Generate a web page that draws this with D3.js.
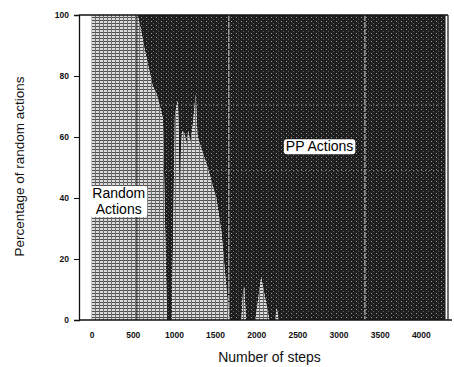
<!DOCTYPE html>
<html><head><meta charset="utf-8">
<script src="https://cdn.jsdelivr.net/npm/d3@7/dist/d3.min.js"></script>
<style>body{margin:0;background:#fff}svg{display:block}</style>
</head><body>
<svg id="chart" width="454" height="367"></svg>
<script>
// ---- data ----
const steps = [0, 560, 600, 650, 700, 740, 790, 840, 867, 890, 915, 975, 995, 1012, 1030, 1048, 1060, 1072, 1085, 1100, 1133, 1150, 1175, 1200, 1230, 1265, 1285, 1300, 1410, 1518, 1578, 1650, 1675, 1820, 1840, 1855, 1875, 1990, 2060, 2110, 2160, 2230, 2250, 2270, 4300];
const randomPct = [100, 100, 95, 88, 82, 77, 74, 69, 66, 35, 0, 0, 35, 67, 70, 72, 60, 23, 55, 62, 61, 57, 62, 58, 64, 74, 61, 59, 50, 39.5, 28.6, 6.6, 0, 0, 9, 11, 0, 0, 14, 7, 0, 0, 4, 0, 0];
const xTicks = [0, 500, 1000, 1500, 2000, 2500, 3000, 3500, 4000];
const yTicks = [0, 20, 40, 60, 80, 100];
const areaLabels = [
  {lines: ["Random", "Actions"], step: 330, pct: 39},
  {lines: ["PP Actions"], step: 2770, pct: 57}
];
const xTitle = "Number of steps";
const yTitle = "Percentage of random actions";

// ---- layout ----
const L = 79, R = 448, T = 15, B = 320;
const svg = d3.select("#chart");
const x = d3.scaleLinear().domain([-153, 4330]).range([L, R]);
const y = d3.scaleLinear().domain([0, 100]).range([B, T]);
const data = steps.map((s, i) => ({s, v: randomPct[i]}));

const defs = svg.append("defs");
// light hatched texture
const pl = defs.append("pattern").attr("id", "light").attr("patternUnits", "userSpaceOnUse")
  .attr("width", 4).attr("height", 3);
pl.append("rect").attr("width", 4).attr("height", 3).attr("fill", "#dcdcdc");
pl.append("rect").attr("x", 0).attr("y", 2).attr("width", 4).attr("height", 1).attr("fill", "#4e4e4e");
pl.append("rect").attr("x", 3).attr("y", 0).attr("width", 1).attr("height", 3).attr("fill", "#6e6e6e");
// dark speckled texture
const pd = defs.append("pattern").attr("id", "dark").attr("patternUnits", "userSpaceOnUse")
  .attr("width", 5).attr("height", 4);
pd.append("rect").attr("width", 5).attr("height", 4).attr("fill", "#1e1e1e");
pd.append("rect").attr("x", 1).attr("y", 1).attr("width", 1).attr("height", 1).attr("fill", "#9a9a9a");
pd.append("rect").attr("x", 3).attr("y", 3).attr("width", 1).attr("height", 1).attr("fill", "#5e5e5e");

// dark area (PP actions) above the curve
svg.append("path").datum(data)
  .attr("d", d3.area().x(d => x(d.s)).y0(y(100)).y1(d => y(d.v)))
  .attr("fill", "url(#dark)");
// light area (random actions) below the curve
svg.append("path").datum(data)
  .attr("d", d3.area().x(d => x(d.s)).y0(y(0)).y1(d => y(d.v)))
  .attr("fill", "url(#light)");

// scan streaks
[550].forEach(s => svg.append("line").attr("x1", x(s)).attr("x2", x(s)).attr("y1", T).attr("y2", B)
  .attr("stroke", "#222").attr("stroke-width", 1));
[1668, 3321].forEach(s => svg.append("line").attr("x1", x(s)).attr("x2", x(s)).attr("y1", T).attr("y2", B)
  .attr("stroke", "#e0e0e0").attr("stroke-width", 1).attr("stroke-dasharray", "6,1"));
[70.5, 49].forEach(v => svg.append("line").attr("x1", x(700)).attr("x2", R).attr("y1", y(v)).attr("y2", y(v))
  .attr("stroke", "#9a9a9a").attr("stroke-width", 1).attr("stroke-dasharray", "1,3"));

// frame
svg.append("line").attr("x1", L).attr("x2", R).attr("y1", T).attr("y2", T).attr("stroke", "#111").attr("stroke-width", 1.5);
svg.append("line").attr("x1", R).attr("x2", R).attr("y1", T).attr("y2", B).attr("stroke", "#111").attr("stroke-width", 1.2);

// axes
const yAxis = d3.axisLeft(y).tickValues(yTicks).tickSize(5).tickPadding(5).tickFormat(d3.format("d"));
const gy = svg.append("g").attr("transform", `translate(${L},0)`).call(yAxis);
gy.select(".domain").attr("stroke", "#111").attr("stroke-width", 1.3);
gy.selectAll(".tick line").attr("stroke", "#111");
gy.selectAll("text").attr("font-family", "Liberation Sans, Arial, sans-serif").attr("font-size", 8.5)
  .attr("font-weight", "bold").attr("fill", "#111");

const xAxis = d3.axisBottom(x).tickValues(xTicks).tickSize(0).tickPadding(12).tickFormat(d3.format("d"));
const gx = svg.append("g").attr("transform", `translate(0,${B})`).call(xAxis);
gx.select(".domain").attr("stroke", "#111").attr("stroke-width", 1.3).attr("d", `M${L},0H${R + 4}`);
gx.selectAll("text").attr("font-family", "Liberation Sans, Arial, sans-serif").attr("font-size", 8.5)
  .attr("font-weight", "bold").attr("fill", "#111");

// titles
svg.append("text").attr("x", (L + R) / 2 + 6).attr("y", 362).attr("text-anchor", "middle")
  .attr("font-family", "Liberation Sans, Arial, sans-serif").attr("font-size", 14).attr("fill", "#111")
  .text(xTitle);
svg.append("text").attr("transform", `translate(24,${(T + B) / 2 - 1}) rotate(-90)`).attr("text-anchor", "middle")
  .attr("font-family", "Liberation Sans, Arial, sans-serif").attr("font-size", 13.5).attr("fill", "#111")
  .text(yTitle);

// area labels
areaLabels.forEach(lab => {
  const g = svg.append("g");
  const lh = 16;
  const t = g.append("text").attr("text-anchor", "middle")
    .attr("font-family", "Liberation Sans, Arial, sans-serif").attr("font-size", 14).attr("fill", "#000");
  lab.lines.forEach((ln, i) => {
    t.append("tspan").attr("x", x(lab.step)).attr("y", y(lab.pct) - (lab.lines.length - 1) * lh / 2 + i * lh + 5).text(ln);
  });
  const bb = t.node().getBBox();
  g.insert("rect", "text").attr("x", bb.x - 2).attr("y", bb.y + 1).attr("width", bb.width + 4).attr("height", bb.height - 1)
    .attr("rx", 3).attr("fill", "#fff");
});
</script>
</body></html>
